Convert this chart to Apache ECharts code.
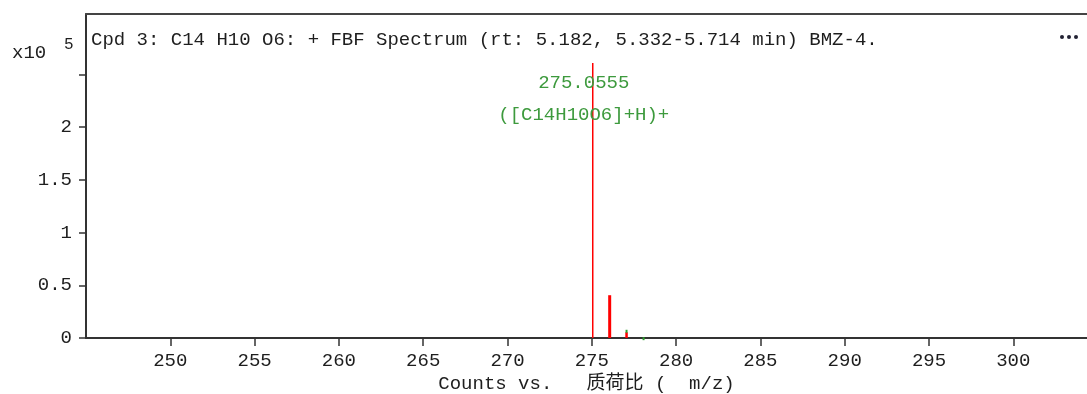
<!DOCTYPE html>
<html>
<head>
<meta charset="utf-8">
<script src="https://cdn.jsdelivr.net/npm/echarts@6/dist/echarts.min.js"></script>
<style>
html,body{margin:0;padding:0;background:#fff;overflow:hidden;}
#chart{width:1087px;height:394px;}
</style>
</head>
<body>
<div id="chart"></div>
<script>
// ---- data ----
const titleText = 'Cpd 3: C14 H10 O6: + FBF Spectrum (rt: 5.182, 5.332-5.714 min) BMZ-4.';
const xAxisName = 'Counts vs.   质荷比 (  m/z)';
const yScaleLabel = 'x10';
const yScaleExp = '5';
const peakMz = [275.0555, 276.06, 277.06];
const peakCounts = [2.61, 0.406, 0.055];          // x10^5
const isoMz = [277.06, 278.07];
const isoCounts = [0.078, 0.008];                 // x10^5
const peakLabels = ['275.0555', '([C14H10O6]+H)+'];
const xTicks = [250, 255, 260, 265, 270, 275, 280, 285, 290, 295, 300];
const yTicks = [0, 0.5, 1, 1.5, 2, 2.5];
const yLabels = [0, 0.5, 1, 1.5, 2];

// ---- styles ----
const FONT = '"Liberation Mono", "Noto Sans CJK SC", monospace';
const peakWidths = [1.5, 3, 2.5];
const axisColor = '#333';
const textColor = '#1e1e1e';
const labelGreen = '#3d9a3d';

const chart = echarts.init(document.getElementById('chart'), null, {renderer: 'canvas'});

const option = {
  animation: false,
  backgroundColor: '#fff',
  grid: {left: 86, right: 0, top: 14, bottom: 56, containLabel: false, outerBoundsMode: 'none'},
  xAxis: [{
    type: 'value',
    min: 245,
    max: 304.37,
    interval: 5,
    position: 'bottom',
    name: xAxisName,
    nameLocation: 'middle',
    nameGap: 34,
    nameTextStyle: {fontFamily: FONT, fontSize: 19, color: textColor},
    axisLine: {show: true, onZero: false, lineStyle: {color: axisColor, width: 2}},
    axisTick: {show: true, length: 8, lineStyle: {color: axisColor, width: 1.5}, customValues: xTicks},
    axisLabel: {show: true, margin: 13, fontFamily: FONT, fontSize: 19, color: textColor, customValues: xTicks},
    splitLine: {show: false}
  }, {
    type: 'value',
    min: 245,
    max: 304.37,
    position: 'top',
    axisLine: {show: true, onZero: false, lineStyle: {color: '#444', width: 2}},
    axisTick: {show: false},
    axisLabel: {show: false},
    splitLine: {show: false}
  }],
  yAxis: {
    type: 'value',
    min: 0,
    max: 3.074,
    interval: 0.5,
    axisLine: {show: true, lineStyle: {color: axisColor, width: 2}},
    axisTick: {show: true, length: 7, lineStyle: {color: axisColor, width: 1.5}, customValues: yTicks},
    axisLabel: {show: true, margin: 14, fontFamily: FONT, fontSize: 19, color: textColor, customValues: yLabels,
      formatter: v => (v > 2.01 ? '' : String(v))},
    splitLine: {show: false}
  },
  graphic: [
    {type: 'text', left: 91, top: 30, style: {text: titleText, font: '19px ' + FONT, fill: textColor}},
    {type: 'text', left: 12, top: 43, style: {text: yScaleLabel, font: '19px ' + FONT, fill: textColor}},
    {type: 'text', left: 64, top: 37, style: {text: yScaleExp, font: '16px ' + FONT, fill: textColor}},
    {type: 'circle', shape: {cx: 1062, cy: 37, r: 2}, style: {fill: '#223'}},
    {type: 'circle', shape: {cx: 1069, cy: 37, r: 2}, style: {fill: '#223'}},
    {type: 'circle', shape: {cx: 1076, cy: 37, r: 2}, style: {fill: '#223'}}
  ],
  series: [{
    type: 'custom',
    name: 'peaks',
    data: peakMz.map((m, i) => [m, peakCounts[i]]),
    renderItem: function (params, api) {
      const x = api.value(0), y = api.value(1);
      const top = api.coord([x, y]);
      const base = api.coord([x, 0]);
      const w = peakWidths[params.dataIndex];
      const children = [{
        type: 'rect',
        shape: {x: top[0] - w / 2, y: top[1], width: w, height: base[1] - top[1]},
        style: {fill: '#ff0000'}
      }];
      if (params.dataIndex === 0) {
        children.push({
          type: 'text',
          x: top[0] - 9, y: top[1] + 4,
          z2: 10,
          style: {
            text: peakLabels.join('\n'),
            font: '19px ' + FONT,
            fill: labelGreen,
            align: 'center',
            verticalAlign: 'top',
            lineHeight: 32
          }
        });
      }
      return {type: 'group', children: children};
    }
  }, {
    type: 'custom',
    name: 'isotopes',
    data: isoMz.map((m, i) => [m, isoCounts[i]]),
    renderItem: function (params, api) {
      const top = api.coord([api.value(0), api.value(1)]);
      return {type: 'rect', shape: {x: top[0] - 1, y: top[1], width: 2, height: 3}, style: {fill: '#2e9e2e'}};
    }
  }]
};
chart.setOption(option);
</script>
</body>
</html>
